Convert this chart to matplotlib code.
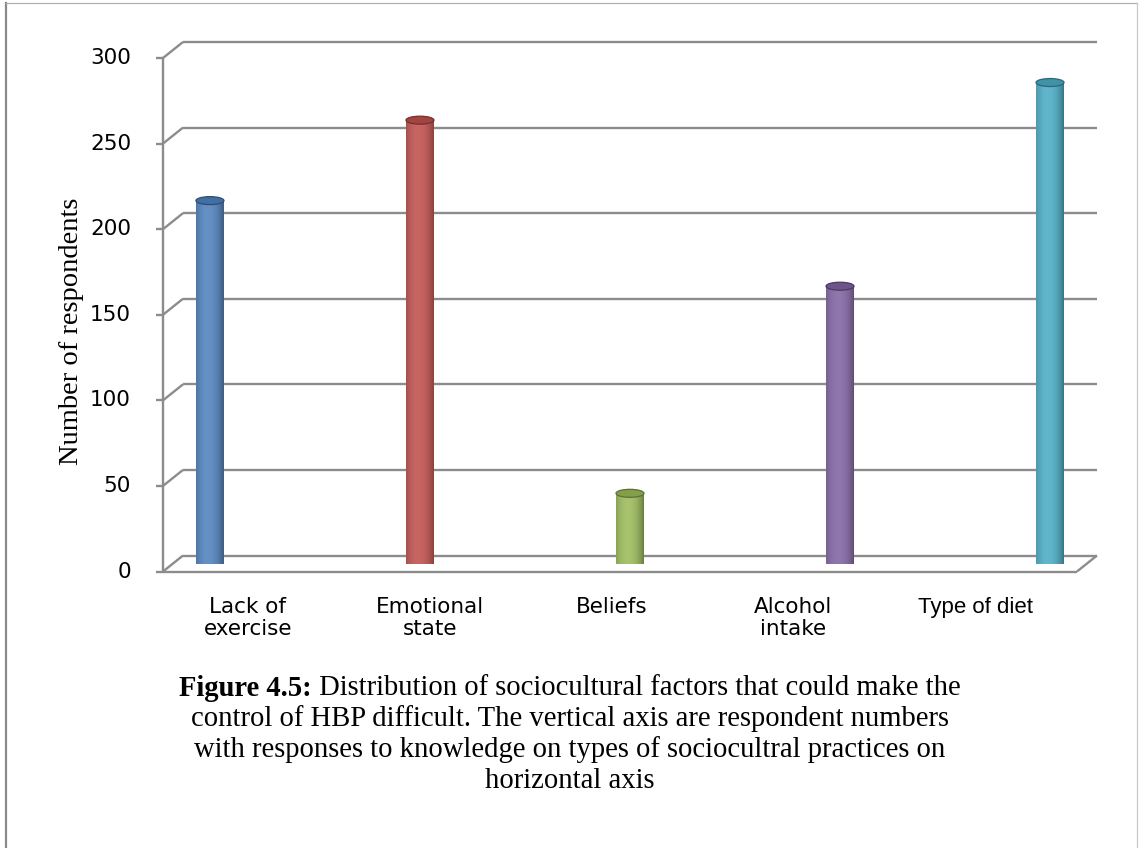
import numpy as np
import matplotlib
matplotlib.use("Agg")
import matplotlib.pyplot as plt
from matplotlib.patches import Ellipse
from matplotlib.path import Path
from matplotlib.lines import Line2D
from matplotlib.colors import to_rgb

# ---- data -------------------------------------------------------------
categories = ["Lack of\nexercise", "Emotional\nstate", "Beliefs", "Alcohol\nintake", "Type of diet"]
respondents = [212, 259, 41, 162, 281]
bar_colors = ["#4F81BD", "#C0504D", "#9BBB59", "#8064A2", "#4BACC6"]
y_ticks = [0, 50, 100, 150, 200, 250, 300]
y_label = "Number of respondents"
caption_bold = "Figure 4.5:"
caption_lines = [
    " Distribution of sociocultural factors that could make the",
    "control of HBP difficult. The vertical axis are respondent numbers",
    "with responses to knowledge on types of sociocultral practices on",
    "horizontal axis",
]

# ---- figure -----------------------------------------------------------
W, H, DPI = 1143, 848, 100
fig = plt.figure(figsize=(W / DPI, H / DPI), dpi=DPI)
fig.patch.set_facecolor("white")


def fx(px):
    return px / W


def fy(py):
    return 1 - py / H


# plane in the middle of the depth, where the cylinders stand
left_px, right_px, top_px, base_px = 173, 1087, 50, 563.5
ax = fig.add_axes([fx(left_px), fy(base_px), (right_px - left_px) / W, (base_px - top_px) / H])
ax.set_xlim(-0.176, 4.176)
ax.set_ylim(0, 300)
ax.axis("off")
x0, x1 = ax.get_xlim()

ppx = (right_px - left_px) / (x1 - x0)   # pixels per category unit
ppy = (base_px - top_px) / 300.0         # pixels per respondent
dx = 10 / ppx                            # depth shift (half), x
dy = 8 / ppy                             # depth shift (half), y

grid_kw = dict(color="#8c8c8c", lw=1.7, clip_on=False, zorder=1, solid_capstyle="butt")

# back wall gridlines and side-wall connectors
for t in y_ticks:
    ax.plot([x0 + dx, x1 + dx], [t + dy, t + dy], **grid_kw)
    ax.plot([x0 - dx, x0 + dx], [t - dy, t + dy], **grid_kw)
    ax.plot([x0 - dx - 7 / ppx, x0 - dx], [t - dy, t - dy], **grid_kw)
    ax.text(x0 - dx - 32 / ppx, t - dy, str(t), ha="right", va="center",
            fontsize=15.5, family="DejaVu Sans", color="black")

# front vertical axis and floor outline
ax.plot([x0 - dx, x0 - dx], [-dy, 300 - dy], **grid_kw)
ax.plot([x0 - dx, x1 - dx], [-dy, -dy], **grid_kw)
ax.plot([x1 - dx, x1 + dx], [-dy, dy], **grid_kw)

# cylinders
bw = 28 / ppx
eh = 8 / ppy
u = np.linspace(0, 1, 80)
f = np.clip(1 - ((u - 0.42) / 0.62) ** 2, 0, 1) ** 0.8
for i, (v, c) in enumerate(zip(respondents, bar_colors)):
    base = np.array(to_rgb(c))
    dark = base * 0.58
    light = base + (1 - base) * 0.12
    cols = dark[None, :] + (light - dark)[None, :] * f[:, None]
    img = np.repeat(cols[None, :, :], 2, axis=0)

    theta = np.linspace(np.pi, 2 * np.pi, 40)
    arc = np.column_stack([i + bw / 2 * np.cos(theta), eh / 2 * np.sin(theta)])
    verts = np.vstack([[i - bw / 2, v], arc, [i + bw / 2, v], [i - bw / 2, v]])
    codes = [Path.MOVETO] + [Path.LINETO] * (len(verts) - 2) + [Path.CLOSEPOLY]
    body = Path(verts, codes)

    im = ax.imshow(img, extent=(i - bw / 2, i + bw / 2, -eh / 2, v), aspect="auto",
                   origin="lower", zorder=3, interpolation="bilinear")
    im.set_clip_path(body, ax.transData)

    top = Ellipse((i, v), bw, eh, facecolor=base * 0.85,
                  edgecolor=base * 0.6, lw=0.9, zorder=4)
    ax.add_patch(top)

ax.set_xlim(x0, x1)
ax.set_ylim(0, 300)

# category labels
lab_ax = fig.add_axes([fx(157), fy(660), (1066 - 157) / W, (660 - 597) / H])
lab_ax.set_xlim(-0.5, 4.5)
lab_ax.set_ylim(0, 1)
lab_ax.axis("off")
for i, name in enumerate(categories):
    if name == "Type of diet":
        lab_ax.text(i, 1, name, ha="center", va="top", fontsize=16,
                    family="Liberation Sans", linespacing=1.05)
    else:
        lab_ax.text(i, 1, name, ha="center", va="top", fontsize=15.5,
                    family="DejaVu Sans", linespacing=1.14)

# axis title
fig.text(fx(72), fy(331), y_label, rotation=90, ha="center", va="center",
         family="Liberation Serif", fontsize=20.5)

# caption
cap_size = 20.6
cx = fx(570)
line_y = [688, 719, 750, 781]
renderer = fig.canvas.get_renderer()
tb = fig.text(0, fy(line_y[0]), caption_bold, ha="left", va="center",
              family="Liberation Serif", fontweight="bold", fontsize=cap_size)
tn = fig.text(0, fy(line_y[0]), caption_lines[0], ha="left", va="center",
              family="Liberation Serif", fontsize=cap_size)
wb = tb.get_window_extent(renderer).width
wn = tn.get_window_extent(renderer).width
start = 570 - (wb + wn) / 2
tb.set_x(fx(start))
tn.set_x(fx(start + wb))
for yy, line in zip(line_y[1:], caption_lines[1:]):
    fig.text(cx, fy(yy), line, ha="center", va="center",
             family="Liberation Serif", fontsize=cap_size)

# page frame
fig.add_artist(Line2D([fx(6), fx(6)], [fy(3), 0], color="#8a8a8a", lw=1.6))
fig.add_artist(Line2D([fx(6), fx(1137)], [fy(3), fy(3)], color="#b0b0b0", lw=0.9))
fig.add_artist(Line2D([fx(1137), fx(1137)], [fy(3), 0], color="#c8c8c8", lw=0.9))

fig.savefig("out.png", dpi=DPI, facecolor="white")
